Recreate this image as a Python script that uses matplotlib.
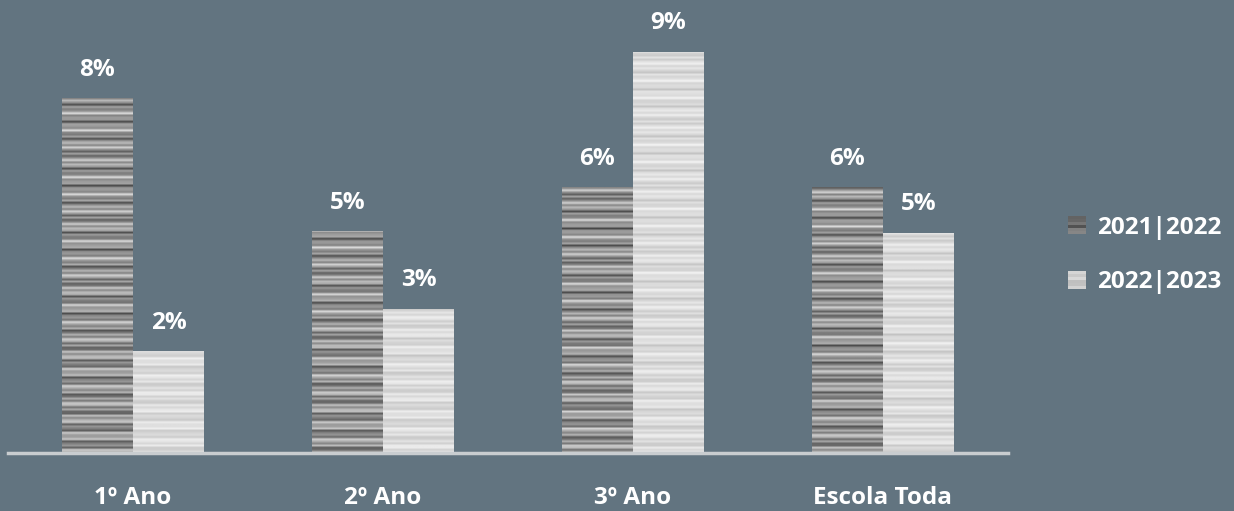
import numpy as np
import matplotlib
matplotlib.use("Agg")
import matplotlib.pyplot as plt
from matplotlib.patches import Rectangle
from matplotlib.legend_handler import HandlerBase

categories = ["1º Ano", "2º Ano", "3º Ano", "Escola Toda"]
series_names = ["2021|2022", "2022|2023"]
values_2122 = [0.080, 0.050, 0.060, 0.060]
values_2223 = [0.023, 0.0325, 0.0905, 0.0497]

BG = "#627480"
plt.rcParams["font.family"] = ["Open Sans", "DejaVu Sans"]
FS = 17.5

fig = plt.figure(figsize=(12.34, 5.11), dpi=100, facecolor=BG)
ax = fig.add_axes([8 / 1234, 58 / 511, 1000 / 1234, 453 / 511])
ax.set_facecolor(BG)


# grey levels for the striped bar texture (dark and light series)
def stripe_levels(n, lo, hi, phase):
    k = np.arange(n)
    p = 0.5 + 0.3 * np.sin(k * 2.3 + phase) + 0.2 * np.cos(k * 0.83 + 2 * phase)
    return lo + (hi - lo) * np.clip(p, 0, 1)


styles = [(0.28, 0.88, 0.3), (0.76, 0.96, 1.1)]
width = 0.284
x = np.arange(len(categories))
row_h = 0.00048

for s, (vals, (lo, hi, ph)) in enumerate(zip([values_2122, values_2223], styles)):
    offset = (s - 0.5) * width
    bars = ax.bar(x + offset, vals, width, color="none", edgecolor="none", zorder=2)
    for b, v in zip(bars, vals):
        n = int(np.ceil(v / row_h))
        levels = stripe_levels(n, lo, hi, ph + b.get_x())
        img = np.repeat(levels[::-1, None], 2, axis=1)
        x0 = b.get_x()
        im = ax.imshow(img, cmap="gray", vmin=0, vmax=1, aspect="auto",
                       extent=(x0, x0 + width, 0, n * row_h),
                       interpolation="bilinear", zorder=2)
        im.set_clip_path(b)
        ax.annotate(f"{v:.0%}", (b.get_x() + width / 2, v), xytext=(0, 20.5),
                    textcoords="offset points", ha="center", va="center",
                    color="white", fontsize=FS, fontweight="bold")

ax.set_xticks(x, categories)
ax.tick_params(axis="x", length=0, pad=23.5, labelsize=FS, labelcolor="white")
for lbl in ax.get_xticklabels():
    lbl.set_fontweight("bold")
ax.set_yticks([])
for sp in ["top", "right", "left"]:
    ax.spines[sp].set_visible(False)
ax.spines["bottom"].set_color("#c9cdd0")
ax.spines["bottom"].set_linewidth(2.5)
ax.set_xlim(-0.5, 3.5)
ax.set_ylim(0, 0.1022)


class StripeHandler(HandlerBase):
    def __init__(self, lo, hi, phase):
        super().__init__()
        self.lo, self.hi, self.phase = lo, hi, phase

    def create_artists(self, legend, orig_handle, xdescent, ydescent,
                       width, height, fontsize, trans):
        size = min(width, height)
        n = 6
        levels = stripe_levels(n, self.lo, self.hi, self.phase)
        arts = []
        for i, g in enumerate(levels):
            r = Rectangle((-xdescent + width - size, -ydescent + i * size / n),
                          size, size / n, facecolor=str(g), edgecolor="none",
                          transform=trans)
            arts.append(r)
        return arts


h1 = Rectangle((0, 0), 1, 1)
h2 = Rectangle((0, 0), 1, 1)
leg = fig.legend([h1, h2], series_names, loc="center left",
                 bbox_to_anchor=(1046 / 1234, 1 - 255 / 511), frameon=False,
                 handler_map={h1: StripeHandler(0.30, 0.60, 0.3),
                              h2: StripeHandler(0.72, 0.88, 1.1)},
                 handlelength=0.75, handleheight=0.75, handletextpad=0.45,
                 labelspacing=1.25, prop={"size": FS, "weight": "bold"})
for t in leg.get_texts():
    t.set_color("white")

fig.savefig("out.png", dpi=100, facecolor=BG)
